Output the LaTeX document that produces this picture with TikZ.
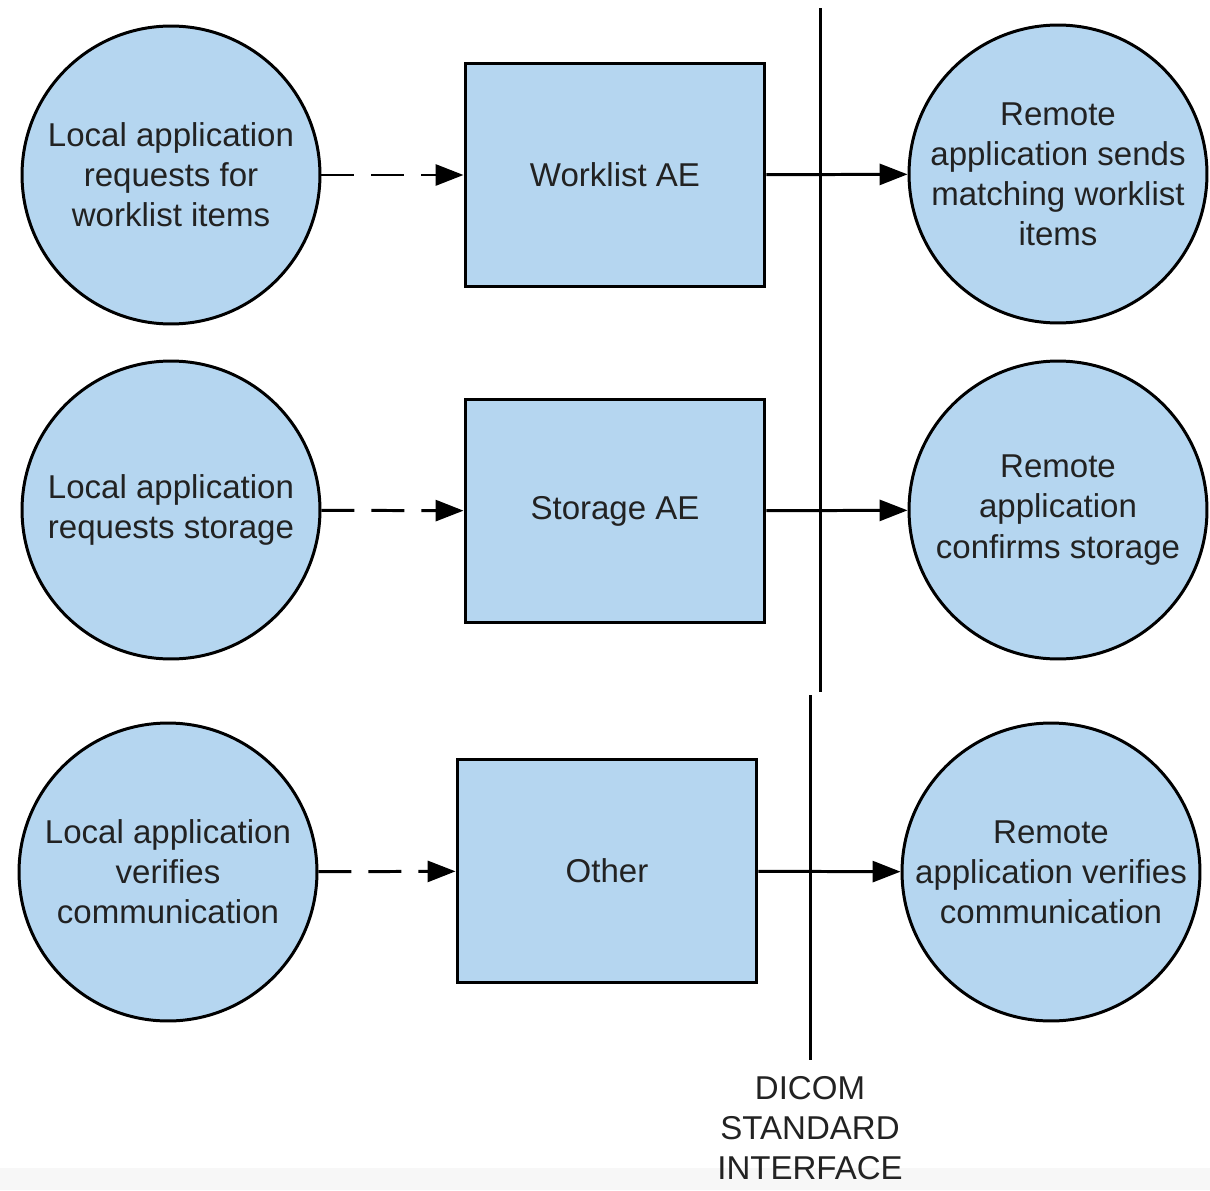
\documentclass[tikz,border=0pt]{standalone}
\usepackage{fontspec}
\setmainfont{Liberation Sans}
\usetikzlibrary{arrows.meta}
\definecolor{aeblue}{RGB}{181,214,240}
\definecolor{txtgray}{RGB}{34,34,34}
\begin{document}
\begin{tikzpicture}[x=0.02cm,y=-0.02cm,
    every node/.style={font=\fontsize{18.8}{22.8}\selectfont,text=txtgray,align=center},
    appcircle/.style={circle,draw,line width=1.7pt,fill=aeblue,minimum size=5.96cm,inner sep=0pt},
    aebox/.style={rectangle,draw,line width=1.7pt,fill=aeblue,minimum width=6cm,minimum height=4.46cm},
    localarrow/.style={line width=1.7pt,dash pattern=on 0.66cm off 0.34cm,-{Triangle[length=0.56cm,width=0.42cm]}},
    remotearrow/.style={line width=1.7pt,-{Triangle[length=0.56cm,width=0.42cm]}}]
        % page
        \useasboundingbox (0,0) rectangle (1210,1190);
        \fill[black!3] (0,1168) rectangle (1210,1190);
        % local applications
        \node[appcircle] (lwork) at (171,175) {Local application\\requests for\\worklist items};
        \node[appcircle] (lstore) at (171,510) {Local application\\requests storage};
        \node[appcircle] (lverify) at (168,872) {Local application\\verifies\\communication};
        % application entities
        \node[aebox] (wae) at (615,175) {Worklist AE};
        \node[aebox] (sae) at (615,511) {Storage AE};
        \node[aebox] (oae) at (607,871) {Other};
        % remote applications
        \node[appcircle] (rwork) at (1058,174) {Remote\\application sends\\matching worklist\\items};
        \node[appcircle] (rstore) at (1058,510) {Remote\\application\\confirms storage};
        \node[appcircle] (rverify) at (1051,872) {Remote\\application verifies\\communication};
        % interface
        \node (dicom) at (810,1128) {DICOM\\STANDARD\\INTERFACE};
        \coordinate (itop) at (820,8);
        \coordinate (imid) at (820,692);
        \coordinate (ilow) at (810,695);
        \coordinate (ibot) at (810,1060);
        \draw[line width=1.7pt] (itop) -- (imid);
        \draw[line width=1.7pt] (ilow) -- (ibot);
        % requests
        \draw[localarrow] (lwork) -- (wae);
        \draw[localarrow] (lstore) -- (sae);
        \draw[localarrow] (lverify) -- (oae);
        % responses
        \draw[remotearrow] (wae) -- (rwork);
        \draw[remotearrow] (sae) -- (rstore);
        \draw[remotearrow] (oae) -- (rverify);
    \end{tikzpicture}
\end{document}
